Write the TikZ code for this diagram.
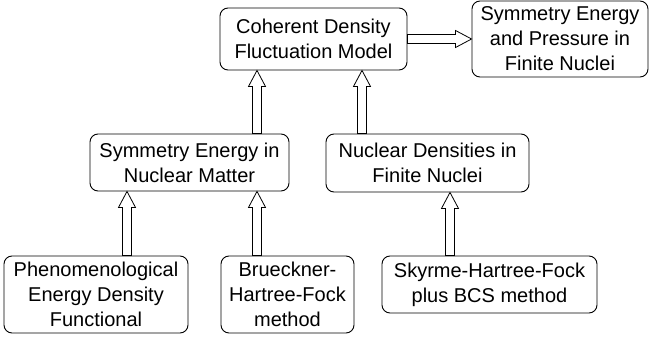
\documentclass[tikz,border=0pt]{standalone}
\usepackage{fontspec}
\setmainfont{Liberation Sans}
\usetikzlibrary{calc}

\begin{document}
\begin{tikzpicture}[x=1pt, y=-1pt,
    box/.style={draw, line width=0.9pt, rounded corners=8pt, align=center, inner sep=0pt,
                font=\fontsize{20}{25}\selectfont},
    hollow/.style={draw, line width=0.8pt, to path={
        ($(\tikztostart)!4.5pt!90:(\tikztotarget)$)
        -- ($(\tikztotarget)!16pt!(\tikztostart)!4.5pt!-90:(\tikztostart)$)
        -- ($(\tikztotarget)!16pt!(\tikztostart)!8.5pt!-90:(\tikztostart)$)
        -- (\tikztotarget)
        -- ($(\tikztotarget)!16pt!(\tikztostart)!8.5pt!90:(\tikztostart)$)
        -- ($(\tikztotarget)!16pt!(\tikztostart)!4.5pt!90:(\tikztostart)$)
        -- ($(\tikztostart)!4.5pt!-90:(\tikztotarget)$) -- cycle}}]
  \useasboundingbox (0,0) rectangle (649,339);

  % top row
  \node[box, minimum width=187pt, minimum height=62pt] (cdfm) at (313.5,39) {Coherent Density\\Fluctuation Model};
  \node[box, minimum width=176pt, minimum height=76pt] (sepf) at (560,39) {Symmetry Energy\\and Pressure in\\Finite Nuclei};
  % middle row
  \node[box, minimum width=199pt, minimum height=57pt] (senm) at (189.5,162.5) {Symmetry Energy in\\Nuclear Matter};
  \node[box, minimum width=203pt, minimum height=58pt] (ndfn) at (427.5,163) {Nuclear Densities in\\Finite Nuclei};
  % bottom row
  \node[box, minimum width=184pt, minimum height=77pt] (pedf) at (96,294.5) {Phenomenological\\Energy Density\\Functional};
  \node[box, minimum width=133pt, minimum height=77pt] (bhf) at (287.5,294.5) {Brueckner-\\Hartree-Fock\\method};
  \node[box, minimum width=215pt, minimum height=57pt] (shf) at (489.5,284.5) {Skyrme-Hartree-Fock\\plus BCS method};

  % arrow lanes
  \coordinate (lane1) at (127,0);
  \coordinate (lane2) at (257,0);
  \coordinate (lane3) at (362,0);
  \coordinate (lane4) at (450,0);

  \draw[hollow] (cdfm.east) to (cdfm.east -| sepf.west);
  \draw[hollow] (senm.north -| lane2) to (cdfm.south -| lane2);
  \draw[hollow] (ndfn.north -| lane3) to (cdfm.south -| lane3);
  \draw[hollow] (pedf.north -| lane1) to (senm.south -| lane1);
  \draw[hollow] (bhf.north -| lane2) to (senm.south -| lane2);
  \draw[hollow] (shf.north -| lane4) to (ndfn.south -| lane4);
\end{tikzpicture}
\end{document}
